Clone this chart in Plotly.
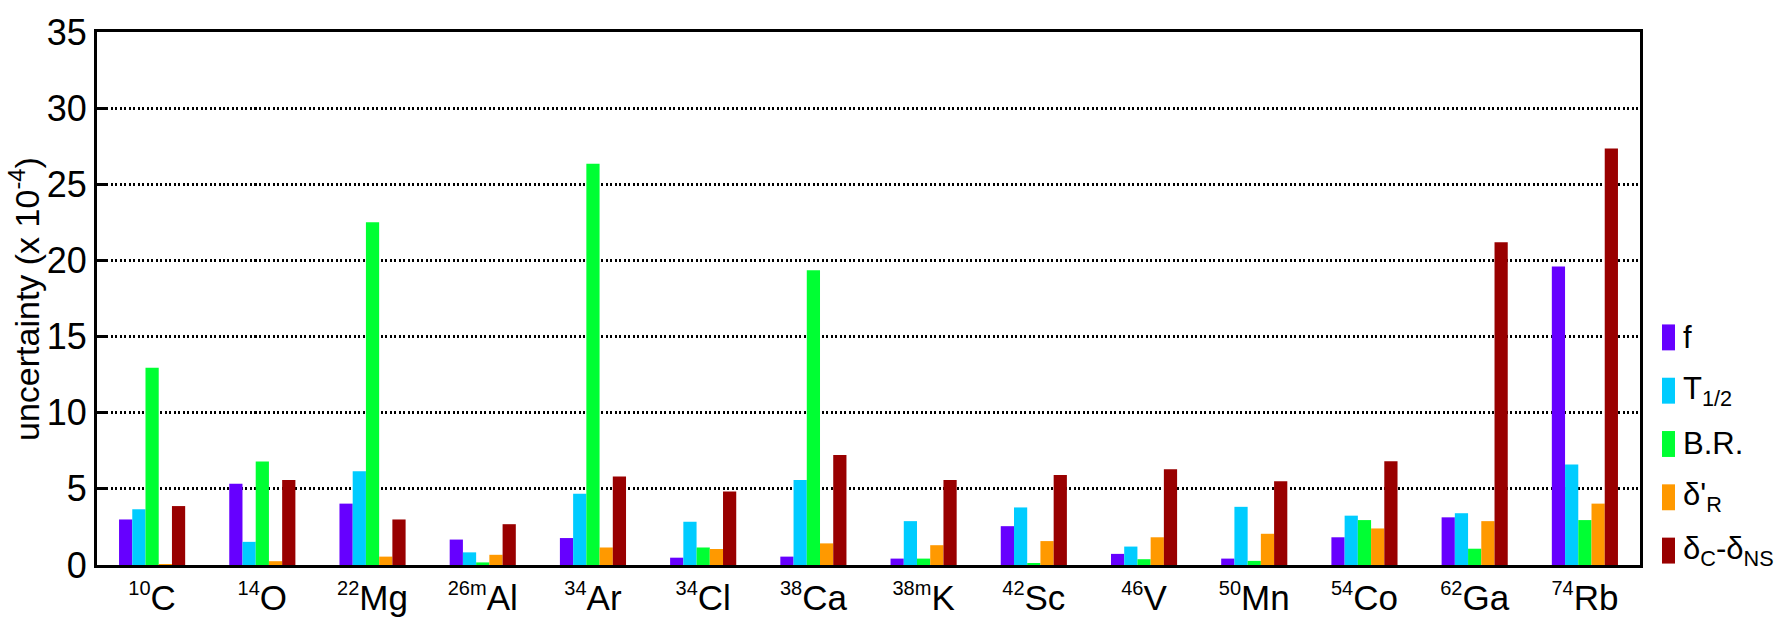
import plotly.graph_objects as go

# Mass numbers and element symbols along the x axis
mass_numbers = ["10", "14", "22", "26m", "34", "34", "38", "38m", "42", "46", "50", "54", "62", "74"]
elements = ["C", "O", "Mg", "Al", "Ar", "Cl", "Ca", "K", "Sc", "V", "Mn", "Co", "Ga", "Rb"]

# Uncertainty contributions, in units of 1e-4
f_unc = [2.99, 5.33, 4.03, 1.67, 1.77, 0.48, 0.55, 0.42, 2.55, 0.73, 0.42, 1.82, 3.13, 19.6]
t_half = [3.66, 1.52, 6.16, 0.83, 4.68, 2.84, 5.58, 2.88, 3.78, 1.21, 3.82, 3.24, 3.40, 6.60]
br_unc = [12.95, 6.79, 22.5, 0.17, 26.35, 1.15, 19.35, 0.42, 0.12, 0.38, 0.27, 2.95, 1.07, 2.95]
dr_unc = [0.05, 0.25, 0.55, 0.67, 1.15, 1.05, 1.42, 1.30, 1.57, 1.82, 2.05, 2.40, 2.88, 4.03]
dc_unc = [3.87, 5.58, 2.99, 2.68, 5.81, 4.83, 7.23, 5.58, 5.91, 6.29, 5.50, 6.81, 21.2, 27.35]

series_names = ["f", "T<sub>1/2</sub>", "B.R.", "δ'<sub>R</sub>", "δ<sub>C</sub>-δ<sub>NS</sub>"]
series_values = [f_unc, t_half, br_unc, dr_unc, dc_unc]
series_colors = ["#6600ff", "#00ccff", "#00ff33", "#ff9900", "#990000"]

y_ticks = [0, 5, 10, 15, 20, 25, 30, 35]

W, H = 1782, 629
ML, MR, MT, MB = 97, 142, 22, 52
PW, PH = W - ML - MR, H - MT - MB
FONT = "Liberation Sans, Arial, Helvetica, sans-serif"


def px_x(x):
    return (x - ML) / PW


def px_y(y):
    return (H - MB - y) / PH


nuclide_labels = [f'<sup><span style="font-size:20px">{a}</span></sup>{e}'
                  for a, e in zip(mass_numbers, elements)]

fig = go.Figure()
x_idx = list(range(len(elements)))
for name, vals, col in zip(series_names, series_values, series_colors):
    fig.add_trace(go.Bar(x=x_idx, y=vals, name=name, marker=dict(color=col, line=dict(width=0)),
                         showlegend=False))

# Legend built by hand: tall narrow swatches with labels on the right
shapes = []
annotations = []
leg_y0 = 340
leg_dy = 55.5
for i, (name, col) in enumerate(zip(series_names, series_colors)):
    yc = leg_y0 + i * leg_dy
    shapes.append(dict(type="rect", xref="paper", yref="paper",
                       x0=px_x(1662), x1=px_x(1675), y0=px_y(yc + 13.5), y1=px_y(yc - 13.5),
                       fillcolor=col, line=dict(width=0)))
    annotations.append(dict(xref="paper", yref="paper", x=px_x(1681), y=px_y(yc),
                            xanchor="left", yanchor="middle", text=name, showarrow=False,
                            font=dict(family=FONT, size=31, color="black")))

# Vertical axis title
annotations.append(dict(xref="paper", yref="paper", x=px_x(25), y=px_y(300),
                        xanchor="center", yanchor="middle", textangle=-90,
                        text="uncertainty (x 10<sup>-4</sup>)", showarrow=False,
                        font=dict(family=FONT, size=34, color="black")))

fig.update_layout(
    width=W, height=H,
    margin=dict(l=ML, r=MR, t=MT, b=MB),
    paper_bgcolor="white", plot_bgcolor="white",
    barmode="group", bargap=0.4, bargroupgap=0,
    shapes=shapes, annotations=annotations,
    showlegend=False,
    font=dict(family=FONT, color="black"),
)
fig.update_xaxes(range=[-0.5, len(elements) - 0.5], tickmode="array", tickvals=x_idx,
                 ticktext=nuclide_labels, showgrid=False, ticks="", showline=True, mirror=True,
                 linewidth=3, linecolor="black", tickfont=dict(family=FONT, size=35),
                 zeroline=False)
fig.update_yaxes(range=[0, 35], tickmode="array", tickvals=y_ticks,
                 ticktext=[str(v) for v in y_ticks], showgrid=True, gridcolor="black",
                 gridwidth=2.5, griddash="2px,2.5px", ticks="inside", ticklen=9, tickwidth=3,
                 tickcolor="black", showline=True, mirror=True, linewidth=3,
                 linecolor="black", tickfont=dict(family=FONT, size=36), zeroline=False)

fig.write_html("out.html")
